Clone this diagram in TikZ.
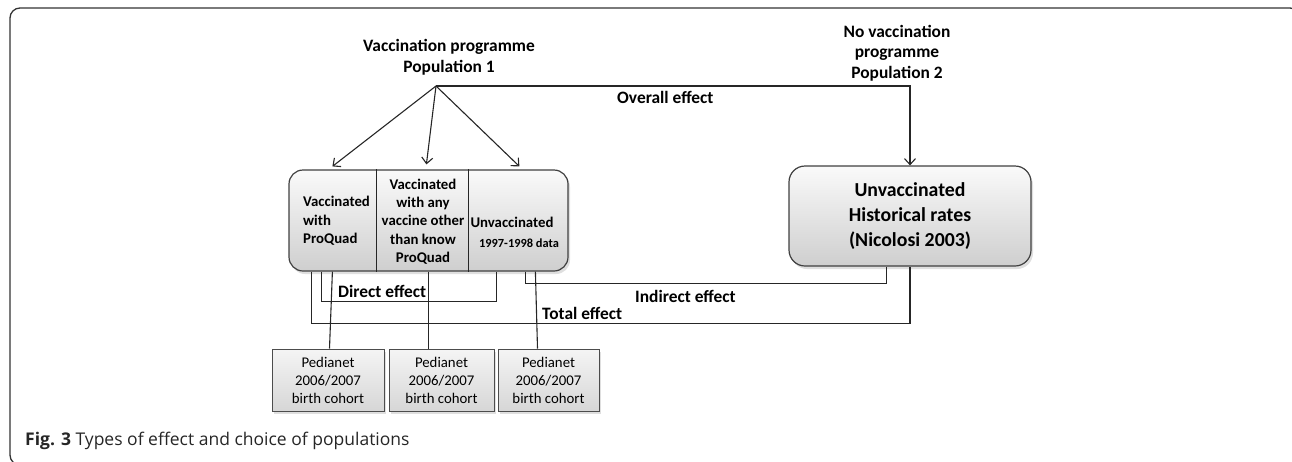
\documentclass[tikz,border=0pt]{standalone}
\usepackage{fontspec}
\setmainfont{Carlito}
\newfontfamily\capfont{Open Sans}
\usetikzlibrary{arrows.meta,positioning,calc,shadows}

\begin{document}
\begin{tikzpicture}[x=1pt,y=-1pt,>={Straight Barb[length=6pt,width=11pt]},node distance=4pt]
  \tikzstyle{title}=[align=center,inner sep=0pt,font=\fontsize{17.4}{20.5}\selectfont\bfseries]
  \tikzstyle{effect}=[anchor=west,inner sep=0pt,font=\fontsize{17.4}{20}\selectfont\bfseries]
  \tikzstyle{group}=[draw=black!75,line width=1.2pt,rounded corners=14pt,top color=gray!4,bottom color=gray!38,drop shadow={shadow xshift=2pt,shadow yshift=-3pt,opacity=0.25}]
  \tikzstyle{cell}=[inner sep=0pt,font=\fontsize{14.8}{18.3}\selectfont\bfseries]
  \tikzstyle{source}=[draw=black!70,line width=1pt,top color=gray!8,bottom color=gray!32,minimum height=62pt,inner sep=0pt,align=center,font=\fontsize{14.8}{18}\selectfont,drop shadow={shadow xshift=2pt,shadow yshift=-3pt,opacity=0.25}]
  \tikzstyle{link}=[line width=1.1pt,black!85]

  \useasboundingbox (0,0) rectangle (1292,461);
  \begin{scope}
    \clip (0,0) rectangle (1292,461);
    \draw[black!80,line width=1.3pt,rounded corners=10pt] (10,8) rectangle (1300,465);
  \end{scope}

  % populations
  \node[title] (pop1) at (449,57) {Vaccination programme\\Population 1};
  \coordinate (apex) at (436,86);
  \node[title] (pop2) at (897,53) {No vaccination\\programme\\Population 2};

  % group boxes
  \node[group,minimum width=279pt,minimum height=101pt] (grp) at (428.5,220.5) {};
  \node[group,rounded corners=16pt,minimum width=242pt,minimum height=100pt,align=center,font=\fontsize{19.8}{25}\selectfont\bfseries] (hist) at (910,216) {Unvaccinated\\Historical rates\\(Nicolosi 2003)};
  \draw[link] ($(grp.north west)+(88,0)$) -- ($(grp.south west)+(88,0)$);
  \draw[link] ($(grp.north west)+(180,0)$) -- ($(grp.south west)+(180,0)$);
  \node[cell,align=left,anchor=west] (vpq) at (303,221) {Vaccinated\\with\\ProQuad};
  \node[cell,align=center] (vany) at (423,221.5) {Vaccinated\\with any\\vaccine other\\than know\\ProQuad};
  \node[cell] (unv) at (512,222) {Unvaccinated};
  \node[cell,font=\fontsize{12.4}{14}\selectfont\bfseries] (yrs) at (519,243) {1997-1998 data};

  % data sources
  \node[source,minimum width=112pt] (ped1) at (328,380) {Pedianet\\2006/2007\\birth cohort};
  \node[source,minimum width=105pt,right=4pt of ped1] (ped2) {Pedianet\\2006/2007\\birth cohort};
  \node[source,minimum width=101pt,right=3pt of ped2] (ped3) {Pedianet\\2006/2007\\birth cohort};

  % arrows
  \draw[link,->] (apex) -- ($(grp.north west)+(44,-3)$);
  \draw[link,->] (apex) -- ($(grp.north west)+(138,-5)$);
  \draw[link,->] (apex) -- ($(grp.north west)+(231,-3)$);
  \draw[link,->] (apex) -| (hist.north);

  % effects
  \draw[link] ($(grp.south west)+(23,0)$) |- ($(hist.south)+(0,57)$) -- (hist.south);
  \draw[link] ($(grp.south west)+(33,0)$) |- ($(grp.south west)+(208,30)$) -- ($(grp.south west)+(208,0)$);
  \draw[link] ($(grp.south west)+(237,0)$) |- ($(hist.south west)+(98,17)$) -- ($(hist.south west)+(98,0)$);
  \draw[link] ($(grp.south west)+(44,0)$) -- ($(ped1.north west)+(58,0)$);
  \draw[link] (grp.south) -- (grp.south |- ped2.north);
  \draw[link] ($(grp.south west)+(247,0)$) -- ($(ped3.north west)+(40,0)$);
  \node[effect] (overall) at (617,97) {Overall effect};
  \node[effect] (direct) at (338,291) {Direct effect};
  \node[effect] (indirect) at (635,296) {Indirect effect};
  \node[effect] (total) at (542,313) {Total effect};

  \node[anchor=base west,inner sep=0pt,text=black!85,font=\capfont\fontsize{17.5}{20}\selectfont] (cap) at (25,445) {\textbf{Fig. 3} Types of effect and choice of populations};
\end{tikzpicture}
\end{document}
